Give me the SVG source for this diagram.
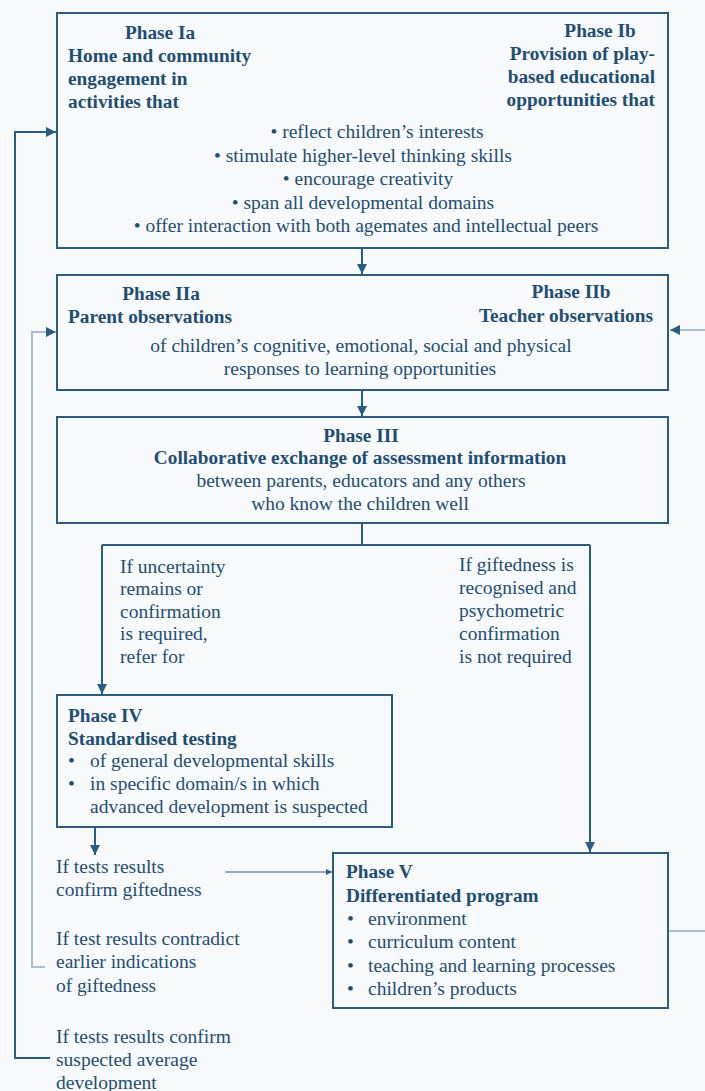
<svg xmlns="http://www.w3.org/2000/svg" width="705" height="1091" viewBox="0 0 705 1091">
<style>
text{font-family:"Liberation Serif","Times New Roman",serif;font-size:19.5px;fill:#1f4e73}
.b{font-weight:bold;font-size:19.3px}
.c{text-anchor:middle}
.e{text-anchor:end}
.box{fill:none;stroke:#2a5d82;stroke-width:2}
.ln{fill:none;stroke:#2a5d82;stroke-width:2}
.thin{fill:none;stroke:#2a5d82;stroke-width:1.2}
.faint{fill:none;stroke:#aebfcd;stroke-width:2}
</style>
<defs>
<marker id="ah" viewBox="0 0 10 10" refX="10" refY="5" markerWidth="5" markerHeight="5" orient="auto"><path d="M0,0 L10,5 L0,10 z" fill="#2a5d82"/></marker>
<marker id="ahf" viewBox="0 0 10 10" refX="10" refY="5" markerWidth="5" markerHeight="5" orient="auto"><path d="M0,0 L10,5 L0,10 z" fill="#2a5d82"/></marker>
</defs>
<rect width="705" height="1091" fill="#f8f9fa"/>
<g id="connectors">
<path class="ln" d="M362,248 V274" marker-end="url(#ah)"/>
<path class="ln" d="M362,390 V416" marker-end="url(#ah)"/>
<path class="ln" d="M362,523 V545 M102,545 H590"/>
<path class="ln" d="M102,545 V694" marker-end="url(#ah)"/>
<path class="ln" d="M590,545 V852" marker-end="url(#ah)"/>
<path class="ln" d="M95,827 V855" marker-end="url(#ah)"/>
<path class="thin" d="M225,872 H332" marker-end="url(#ah)"/>
<path class="faint" d="M668,931 H712 V330 H670" marker-end="url(#ahf)"/>
<path class="ln" d="M50,1058 H15 V132 H56" marker-end="url(#ah)"/>
<path class="faint" d="M45,967 H32 V332 H56" marker-end="url(#ahf)"/>
</g>
<g id="phase1">
<rect class="box" x="57" y="13" width="611" height="235"/>
<text class="b c" x="160" y="39">Phase Ia</text>
<text class="b" x="68" y="62">Home and community</text>
<text class="b" x="68" y="85">engagement in</text>
<text class="b" x="68" y="108">activities that</text>
<text class="b c" x="600" y="37">Phase Ib</text>
<text class="b e" x="655" y="60">Provision of play-</text>
<text class="b e" x="655" y="83">based educational</text>
<text class="b e" x="655" y="106">opportunities that</text>
<text class="c" x="377" y="138">• reflect children’s interests</text>
<text class="c" x="363" y="162">• stimulate higher-level thinking skills</text>
<text class="c" x="368" y="185">• encourage creativity</text>
<text class="c" x="363" y="209">• span all developmental domains</text>
<text class="c" x="366" y="232">• offer interaction with both agemates and intellectual peers</text>
</g>
<g id="phase2">
<rect class="box" x="57" y="275" width="611" height="115"/>
<text class="b c" x="161" y="300">Phase IIa</text>
<text class="b" x="68" y="323">Parent observations</text>
<text class="b c" x="571" y="298">Phase IIb</text>
<text class="b e" x="653" y="322">Teacher observations</text>
<text class="c" x="361" y="352">of children’s cognitive, emotional, social and physical</text>
<text class="c" x="360" y="375">responses to learning opportunities</text>
</g>
<g id="phase3">
<rect class="box" x="57" y="417" width="611" height="106"/>
<text class="b c" x="361" y="442">Phase III</text>
<text class="b c" x="360" y="464">Collaborative exchange of assessment information</text>
<text class="c" x="361" y="487">between parents, educators and any others</text>
<text class="c" x="360" y="510">who know the children well</text>
</g>
<g id="branch-left">
<text x="120" y="573">If uncertainty</text>
<text x="120" y="595">remains or</text>
<text x="120" y="618">confirmation</text>
<text x="120" y="640">is required,</text>
<text x="120" y="663">refer for</text>
</g>
<g id="branch-right">
<text x="459" y="571">If giftedness is</text>
<text x="459" y="594">recognised and</text>
<text x="459" y="617">psychometric</text>
<text x="459" y="640">confirmation</text>
<text x="459" y="663">is not required</text>
</g>
<g id="phase4">
<rect class="box" x="57" y="695" width="335" height="132"/>
<text class="b" x="68" y="722">Phase IV</text>
<text class="b" x="68" y="745">Standardised testing</text>
<text x="68" y="767">•</text>
<text x="90" y="767">of general developmental skills</text>
<text x="68" y="790">•</text>
<text x="90" y="790">in specific domain/s in which</text>
<text x="90" y="813">advanced development is suspected</text>
</g>
<g id="outcomes">
<text x="56" y="873">If tests results</text>
<text x="56" y="896">confirm giftedness</text>
<text x="56" y="945">If test results contradict</text>
<text x="56" y="968">earlier indications</text>
<text x="56" y="992">of giftedness</text>
<text x="56" y="1043">If tests results confirm</text>
<text x="56" y="1066">suspected average</text>
<text x="56" y="1089">development</text>
</g>
<g id="phase5">
<rect class="box" x="333" y="853" width="335" height="155"/>
<text class="b" x="346" y="878">Phase V</text>
<text class="b" x="346" y="902">Differentiated program</text>
<text x="347" y="925">•</text>
<text x="368" y="925">environment</text>
<text x="347" y="948">•</text>
<text x="368" y="948">curriculum content</text>
<text x="347" y="972">•</text>
<text x="368" y="972">teaching and learning processes</text>
<text x="347" y="995">•</text>
<text x="368" y="995">children’s products</text>
</g>
</svg>
